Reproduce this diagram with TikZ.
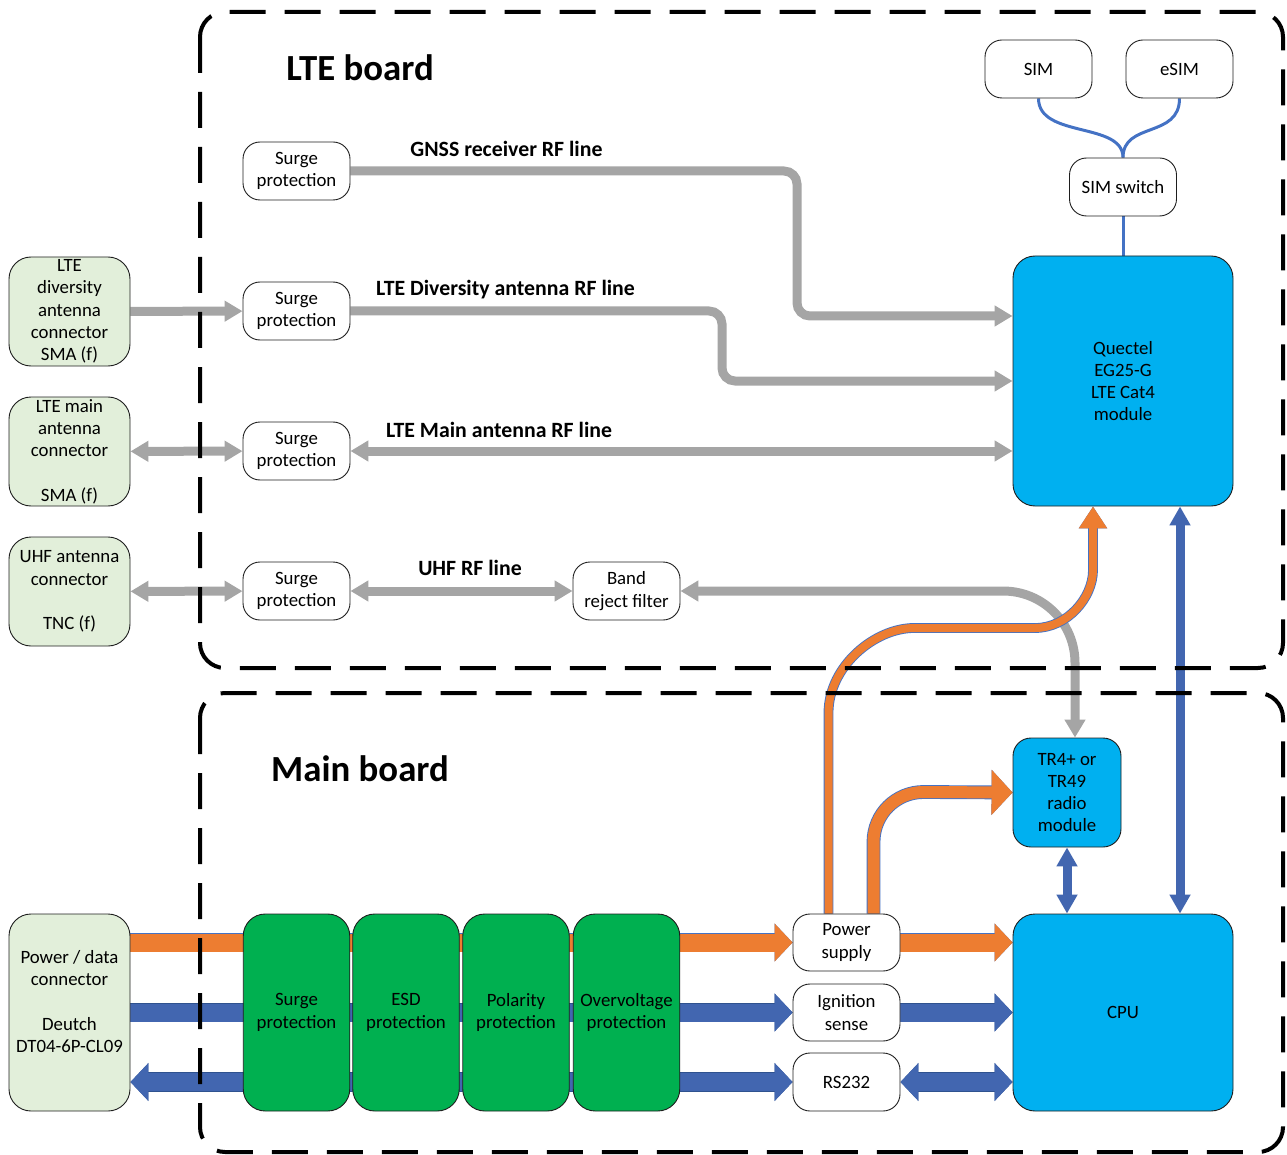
\documentclass[tikz,border=0pt]{standalone}
\usepackage{fontspec}
\setmainfont{Carlito}
\usetikzlibrary{arrows.meta,backgrounds,calc}
\definecolor{cyanbox}{HTML}{00B0F0}
\definecolor{greenbox}{HTML}{00B050}
\definecolor{lgreen}{HTML}{E2EFDA}
\definecolor{orangec}{HTML}{ED7D31}
\definecolor{bluel}{HTML}{4472C4}
\definecolor{bluea}{HTML}{4266B0}
\definecolor{blueo}{HTML}{2F528F}
\definecolor{grayc}{HTML}{A5A5A5}
\definecolor{edgec}{HTML}{1E1E1E}
\tikzset{
  gt/.tip={Triangle[width=20pt,length=18pt]},
  ot/.tip={Triangle[width=37pt,length=18pt]},
  bvt/.tip={Triangle[width=20pt,length=19pt]},
  oqt/.tip={Triangle[width=27pt,length=22pt]},
  otr/.tip={Triangle[width=44pt,length=21pt]},
}
\begin{document}
\begin{tikzpicture}[x=1pt,y=-1pt,
  every node/.style={font=\fontsize{18.8}{22.3}\selectfont, align=center, inner sep=0pt},
  wbox/.style={draw=edgec, line width=0.9pt, fill=white, rounded corners=17pt, minimum width=107pt, minimum height=58pt},
  cbox/.style={draw=edgec, line width=0.9pt, fill=cyanbox, rounded corners=22pt},
  gbox/.style={draw=edgec, line width=0.9pt, fill=greenbox, rounded corners=22pt, minimum width=106.5pt, minimum height=197pt},
  lgbox/.style={draw=edgec, line width=0.9pt, fill=lgreen, rounded corners=22pt, minimum width=121pt, minimum height=109pt},
  rflabel/.style={font=\fontsize{21.8}{26}\selectfont\bfseries, anchor=base},
  title/.style={font=\fontsize{36.8}{40}\selectfont\bfseries, anchor=base},
  board/.style={draw=black, line width=4pt, dash pattern=on 36pt off 19pt, rounded corners=25pt},
  garr/.style={draw=grayc, line width=9pt},
  oarr/.style={draw=orangec, line width=18pt, preaction={draw=bluel, line width=19.6pt}},
  barr/.style={draw=bluea, line width=18pt, preaction={draw=blueo, line width=19.4pt}},
  oarrc/.style={draw=orangec, line width=8pt, preaction={draw=bluel, line width=9.8pt}},
  oarrt/.style={draw=orangec, line width=12pt, preaction={draw=bluel, line width=13.8pt}},
  barrv/.style={draw=bluea, line width=9pt},
  simline/.style={draw=bluel, line width=3pt},
]
\useasboundingbox (0,0) rectangle (1287,1155);

% ---------- nodes ----------
\node[wbox] (sim) at (1038.5,69) {SIM};
\node[wbox] (esim) at (1179.5,69) {eSIM};
\node[wbox] (sw) at (1123,187) {SIM switch};
\node[cbox, minimum width=220pt, minimum height=250pt] (qt) at (1123,381) {Quectel\\EG25-G\\LTE Cat4\\module};

\node[wbox] (sg1) at (296.5,171) {Surge\\protection};
\node[wbox] (sg2) at (296.5,311) {Surge\\protection};
\node[wbox] (sg3) at (296.5,451) {Surge\\protection};
\node[wbox] (sg4) at (296.5,591) {Surge\\protection};
\node[wbox] (bf) at (626.5,591) {Band\\reject filter};

\node[lgbox] (cdiv) at (69.5,311.5) {LTE\\diversity\\antenna\\connector\\SMA (f)};
\node[lgbox] (cmain) at (69.5,451.5) {LTE main\\antenna\\connector\\[22pt]SMA (f)};
\node[lgbox] (cuhf) at (69.5,591.5) {UHF antenna\\connector\\[22pt]TNC (f)};
\node[lgbox, minimum height=197pt, label={[yshift=11pt]center:{Power / data\\connector\\[22pt]Deutch\\DT04-6P-CL09}}] (cpd) at (69.5,1012.5) {};

\node[gbox] (gsp) at (296.5,1012.5) {Surge\\protection};
\node[gbox] (esd) at (406,1012.5) {ESD\\protection};
\node[gbox] (pol) at (516,1012.5) {Polarity\\protection};
\node[gbox] (ov) at (626.5,1012.5) {Overvoltage\\protection};

\node[wbox, minimum height=57pt] (ps) at (846.5,942.5) {Power\\supply};
\node[wbox, minimum height=57pt] (ig) at (846.5,1012.5) {Ignition\\sense};
\node[wbox] (rs) at (846.5,1082) {RS232};
\node[cbox, minimum width=220pt, minimum height=197pt] (cpu) at (1123,1012.5) {CPU};
\node[cbox, rounded corners=18pt, minimum width=108pt, minimum height=109pt] (tr) at (1067,792.5) {TR4+ or\\TR49\\radio\\module};

% ---------- labels ----------
\node[title] (tlte) at (360,81) {LTE board};
\node[title] (tmain) at (360,781) {Main board};
\node[rflabel] (lgnss) at (506.5,157) {GNSS receiver RF line};
\node[rflabel] (ldiv) at (505.5,296) {LTE Diversity antenna RF line};
\node[rflabel] (lmain) at (499,437) {LTE Main antenna RF line};
\node[rflabel] (luhf) at (470,575) {UHF RF line};

% ---------- connectors ----------
\begin{pgfonlayer}{background}
  % SIM lines
  \draw[simline] (sim.south) .. controls +(0,40) and +(0,-36) .. (sw.north);
  \draw[simline] (esim.south) .. controls +(0,40) and +(0,-36) .. (sw.north);
  \draw[simline] (sw) -- (qt);

  % grey RF lines
  \draw[garr, -gt, rounded corners=13pt] (sg1.east) -- (797,171) -- (797,316) -- (qt.west |- 0,316);
  \draw[garr, -gt] (cdiv) -- (sg2);
  \draw[garr, -gt, rounded corners=13pt] (sg2.east) -- (722,311) -- (722,381) -- (qt.west |- 0,381);
  \draw[garr, gt-gt] (cmain) -- (sg3);
  \draw[garr, gt-gt] (sg3) -- (qt.west |- sg3);
  \draw[garr, gt-gt] (cuhf) -- (sg4);
  \draw[garr, gt-gt] (sg4) -- (bf);
  \draw[garr, gt-gt] (bf.east) -- (1003,591) .. controls (1043,591) and (1075,623) .. (1075,663) -- (tr.north -| 1075,0);

  % orange curved power lines
  \draw[oarrc, -oqt] ($(ps.north)+(-18,0)$) -- (828.5,713) .. controls (828.5,666) and (875,628) .. (914,628) -- (1035,628) .. controls (1067,628) and (1093,598) .. (1093,570) -- (qt.south -| 1093,0);
  \draw[oarrt, -otr] ($(ps.north)+(27,0)$) -- (873.5,842) .. controls (873.5,814) and (896,792) .. (923.5,792) -- (tr.west);

  % main board power / data lines
  \draw[oarr, -ot] (cpd.east |- ps) -- (ps);
  \draw[oarr, -ot] (ps) -- (cpu.west |- ps);
  \draw[barr, -ot] (cpd.east |- ig) -- (ig);
  \draw[barr, -ot] (ig) -- (cpu.west |- ig);
  \draw[barr, -ot] (ov.east |- rs) -- (rs);
  \draw[barr, -ot] (ov.east |- rs) -- (cpd.east |- rs);
  \draw[barr, ot-ot] (rs) -- (cpu.west |- rs);

  % vertical data lines
  \draw[barrv, bvt-bvt] (qt.south -| 1180,0) -- (cpu.north -| 1180,0);
  \draw[barrv, bvt-bvt] (tr.south) -- (tr.south |- cpu.north);
\end{pgfonlayer}

% ---------- boards ----------
\draw[board] (200,12) rectangle (1283,668);
\draw[board] (200,693) rectangle (1283,1152);
\end{tikzpicture}
\end{document}
